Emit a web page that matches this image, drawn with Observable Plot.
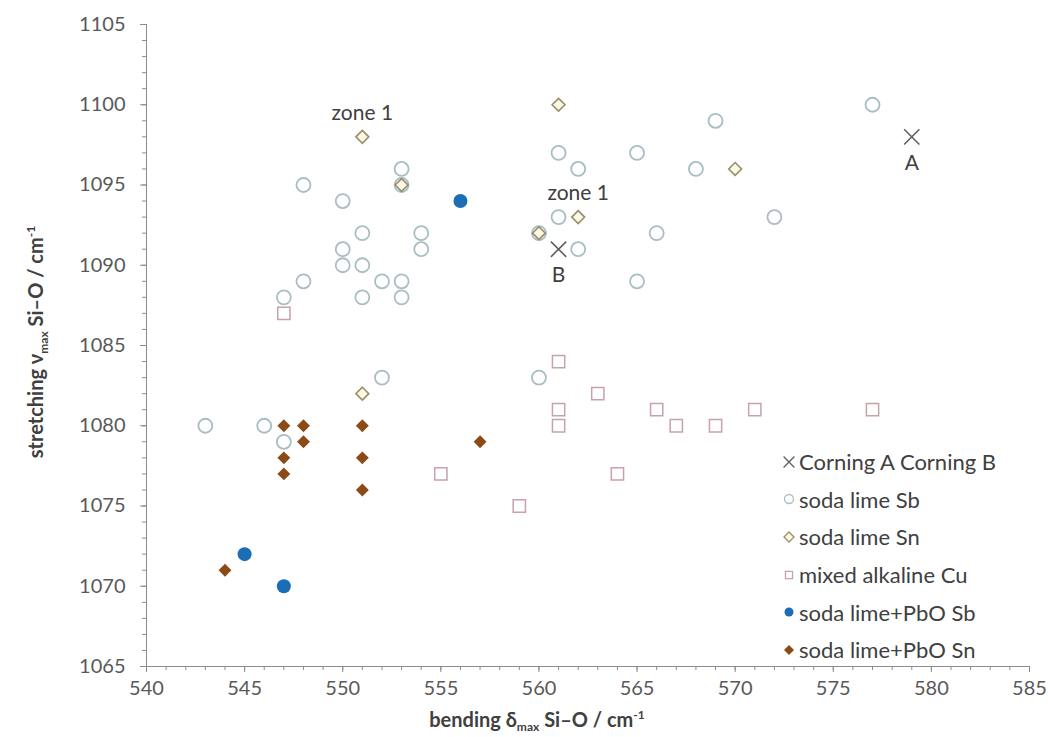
<!DOCTYPE html>
<html><head><meta charset="utf-8">
<script src="https://cdn.jsdelivr.net/npm/d3@7"></script>
<script src="https://cdn.jsdelivr.net/npm/@observablehq/plot@0.6"></script>
<style>
body{margin:0;background:#fff;font-family:Lato,"Open Sans",sans-serif}
#wrap{position:relative;width:1048px;height:737px;overflow:hidden}
#legend{position:absolute;left:782px;top:443px;font-size:22px;color:#404040;font-family:Lato,sans-serif}
.item{display:flex;align-items:center;height:37.6px;white-space:nowrap}
.item svg{margin-right:3px}
</style></head><body>
<div id="wrap"><div id="chart"></div><div id="legend"></div></div>
<script>
// Tick values
const xTicks = [540,545,550,555,560,565,570,575,580,585];
const yTicks = [1065,1070,1075,1080,1085,1090,1095,1100,1105];

// Series: Corning A / Corning B
const cornX = [579,561];
const cornY = [1098,1091];
const cornLabel = ["A","B"];

// soda lime Sb
const sbX = [543,546,547,547,548,548,550,550,550,551,551,551,552,552,553,553,553,553,554,554,560,560,561,561,562,562,565,565,566,568,569,572,577];
const sbY = [1080,1080,1079,1088,1095,1089,1094,1091,1090,1092,1090,1088,1089,1083,1096,1095,1089,1088,1092,1091,1092,1083,1097,1093,1091,1096,1097,1089,1092,1096,1099,1093,1100];

// soda lime Sn
const snX = [551,553,560,561,562,570,551];
const snY = [1098,1095,1092,1100,1093,1096,1082];

// mixed alkaline Cu
const cuX = [547,555,559,561,561,561,563,564,566,567,569,571,577];
const cuY = [1087,1077,1075,1084,1081,1080,1082,1077,1081,1080,1080,1081,1081];

// soda lime+PbO Sb
const pbSbX = [556,545,547];
const pbSbY = [1094,1072,1070];

// soda lime+PbO Sn
const pbSnX = [544,547,547,547,548,548,551,551,551,557];
const pbSnY = [1071,1080,1078,1077,1080,1079,1080,1078,1076,1079];

// zone annotations
const zoneX = [551,562];
const zoneY = [1098,1093];
const zoneLabel = ["zone 1","zone 1"];

const seriesNames = ["Corning A Corning B","soda lime Sb","soda lime Sn","mixed alkaline Cu","soda lime+PbO Sb","soda lime+PbO Sn"];

const zip = (xs, ys, extra) => xs.map((x,i) => ({x, y: ys[i], label: extra ? extra[i] : null}));
const corning = zip(cornX, cornY, cornLabel);
const sb = zip(sbX, sbY), sn = zip(snX, snY), cu = zip(cuX, cuY);
const pbSb = zip(pbSbX, pbSbY), pbSn = zip(pbSnX, pbSnY);
const zones = zip(zoneX, zoneY, zoneLabel);

const styles = [
  {symbol:"times", stroke:"#5f5f5f", fill:"none", r:7, sw:1.6},
  {symbol:"circle", stroke:"#a9bdc4", fill:"white", r:7, sw:1.8},
  {symbol:"diamond2", stroke:"#9a8d68", fill:"#fcf9e6", r:5.8, sw:1.6},
  {symbol:"square2", stroke:"#c6a2aa", fill:"white", r:7.8, sw:1.5},
  {symbol:"circle", stroke:"none", fill:"#1b6db6", r:7, sw:0},
  {symbol:"diamond2", stroke:"none", fill:"#8c4a16", r:5.8, sw:0}
];
const datasets = [corning, sb, sn, cu, pbSb, pbSn];

const axisColor = "#8c8c8c";
const plot = Plot.plot({
  width: 1048,
  height: 737,
  marginLeft: 146,
  marginRight: 19,
  marginTop: 24,
  marginBottom: 71,
  style: {fontFamily: "Lato, sans-serif", background: "white"},
  x: {domain: [540,585]},
  y: {domain: [1065,1105]},
  marks: [
    Plot.axisX({ticks: d3.range(540,586,1), tickSize: 4, tickFormat: () => "", stroke: axisColor, label: null}),
    Plot.axisX({ticks: xTicks, tickSize: 6, tickPadding: 8, fontSize: 20, fill: "#595959", stroke: axisColor, tickFormat: d => String(d), label: null}),
    Plot.axisY({ticks: d3.range(1065,1106,1), tickSize: 4, tickFormat: () => "", stroke: axisColor, label: null}),
    Plot.axisY({ticks: yTicks, tickSize: 6, tickPadding: 15, fontSize: 20, fill: "#595959", stroke: axisColor, tickFormat: d => String(d), label: null}),
    Plot.ruleY([1065], {stroke: axisColor}),
    Plot.ruleX([540], {stroke: axisColor}),
    ...datasets.map((d, i) => Plot.dot(d, {x: "x", y: "y", symbol: () => styles[i].symbol, r: styles[i].r,
        stroke: styles[i].stroke, fill: styles[i].fill, strokeWidth: styles[i].sw})),
    Plot.text(zones, {x: "x", y: "y", text: "label", dy: -24, fontSize: 21, fill: "#404040"}),
    Plot.text(corning, {x: "x", y: "y", text: "label", dy: 26, fontSize: 21, fill: "#404040"})
  ]
});
document.getElementById("chart").appendChild(plot);

// axis titles
const svg = d3.select(plot);
const xt = svg.append("text").attr("x", 537).attr("y", 727).attr("text-anchor", "middle")
  .attr("font-size", 20).attr("font-weight", "bold").attr("fill", "#404040");
xt.append("tspan").text("bending δ");
xt.append("tspan").attr("font-size", 12).attr("dy", 4).text("max");
xt.append("tspan").attr("dy", -4).text(" Si–O / cm");
xt.append("tspan").attr("font-size", 12).attr("dy", -8).text("-1");

const yt = svg.append("text").attr("transform", "translate(43,342) rotate(-90)").attr("text-anchor", "middle")
  .attr("font-size", 20).attr("font-weight", "bold").attr("fill", "#404040");
yt.append("tspan").text("stretching ν");
yt.append("tspan").attr("font-size", 12).attr("dy", 5).text("max");
yt.append("tspan").attr("dy", -5).text(" Si–O / cm");
yt.append("tspan").attr("font-size", 12).attr("dy", -8).text("-1");

// legend
const legend = d3.select("#legend");
const symMap = {times: d3.symbolTimes, circle: d3.symbolCircle, diamond2: d3.symbolDiamond2, square2: d3.symbolSquare2};
seriesNames.forEach((name, i) => {
  const s = styles[i];
  const item = legend.append("div").attr("class", "item");
  const sv = item.append("svg").attr("width", 14).attr("height", 14);
  const rr = i === 0 ? 5 : 4.5;
  sv.append("path").attr("transform", "translate(7,7)")
    .attr("d", d3.symbol(symMap[s.symbol], Math.PI * rr * rr)())
    .attr("fill", s.fill).attr("stroke", s.stroke).attr("stroke-width", s.sw ? 1.3 : 0);
  item.append("span").text(name);
});
</script>
</body></html>
